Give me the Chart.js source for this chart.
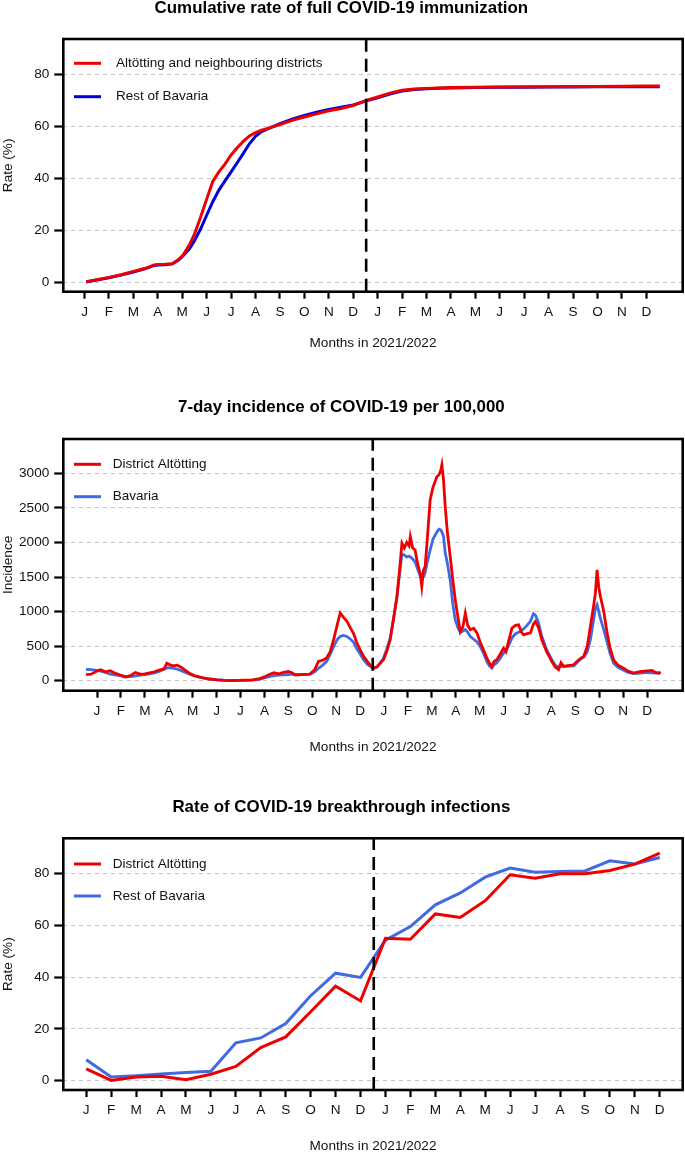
<!DOCTYPE html>
<html><head><meta charset="utf-8">
<script src="https://cdn.jsdelivr.net/npm/chart.js@4.4.1/dist/chart.umd.min.js"></script>
<style>
html,body{margin:0;padding:0;background:#fff;overflow:hidden;width:685px;height:1153px;position:relative;}
canvas{position:absolute;left:0;}
</style></head><body>
<canvas id="c1" width="685" height="351" style="top:0px"></canvas>
<canvas id="c2" width="685" height="356" style="top:399px"></canvas>
<canvas id="c3" width="685" height="355" style="top:799px"></canvas>
<script>
// ---------- shared ----------
const monthLabels = ['J','F','M','A','M','J','J','A','S','O','N','D','J','F','M','A','M','J','J','A','S','O','N','D'];
const monthTicks = [0,1,2,3,4,5,6,7,8,9,10,11,12,13,14,15,16,17,18,19,20,21,22,23];
const xTitle = 'Months in 2021/2022';
const cutMonth = 11.53;

// ---------- panel 1: cumulative immunization ----------
const immTitle = 'Cumulative rate of full COVID-19 immunization';
const immX = [0.07,0.5,1,1.5,2,2.5,2.85,3,3.3,3.6,3.85,4.05,4.3,4.5,4.75,5,5.25,5.5,5.75,6,6.25,6.5,6.75,7,7.25,7.5,8,8.5,9,9.5,10,10.5,11,11.5,12,12.5,13,13.5,14,14.5,15,16,17,18,19,20,21,22,23,23.55];
const immAltoetting = [0.2,1.0,1.9,2.9,4.2,5.4,6.7,6.9,7.0,7.2,8.8,10.7,14.5,18.5,25,32,38.8,42.5,45.5,49,51.8,54.2,56.3,57.6,58.5,59.2,60.7,62.3,63.6,64.8,66,66.9,68.0,69.9,71.3,72.8,73.9,74.4,74.6,74.8,74.9,75.0,75.1,75.2,75.2,75.3,75.3,75.4,75.5,75.5];
const immBavaria = [0.1,0.9,1.8,2.8,4.0,5.3,6.5,6.7,6.8,7.1,8.6,10.3,13.0,16.0,20.5,25.8,31.0,35.5,39.0,42.5,46.0,49.6,53.3,56.2,58.0,59.0,61.0,62.8,64.2,65.4,66.5,67.4,68.2,69.7,71.0,72.4,73.6,74.2,74.5,74.7,74.8,74.9,75.0,75.0,75.1,75.1,75.2,75.2,75.2,75.2];
const immYTicks = [0,20,40,60,80];

// ---------- panel 2: 7-day incidence ----------
const incTitle = '7-day incidence of COVID-19 per 100,000';
const incX = [-0.46,-0.25,0,0.15,0.35,0.55,0.75,1.0,1.2,1.4,1.6,1.8,2.0,2.2,2.4,2.6,2.8,2.92,3.05,3.2,3.35,3.5,3.7,3.9,4.1,4.4,4.7,5.0,5.3,5.6,5.9,6.2,6.5,6.8,7.0,7.2,7.4,7.6,7.8,8.0,8.15,8.3,8.6,8.9,9.1,9.26,9.45,9.6,9.75,9.9,10.05,10.17,10.3,10.45,10.6,10.72,10.85,11.0,11.15,11.3,11.45,11.56,11.7,11.85,11.98,12.12,12.26,12.4,12.54,12.65,12.75,12.85,12.95,13.05,13.1,13.2,13.3,13.4,13.51,13.58,13.65,13.72,13.8,13.93,14.05,14.21,14.3,14.38,14.42,14.49,14.56,14.65,14.77,14.88,14.98,15.1,15.19,15.3,15.4,15.5,15.61,15.75,15.89,16.02,16.16,16.3,16.4,16.51,16.6,16.72,16.85,17.0,17.1,17.2,17.35,17.5,17.63,17.75,17.84,17.98,18.12,18.25,18.33,18.45,18.6,18.8,19.02,19.15,19.3,19.4,19.51,19.7,19.93,20.1,20.25,20.35,20.5,20.63,20.75,20.84,20.91,20.98,21.05,21.19,21.33,21.45,21.6,21.8,22.02,22.2,22.44,22.7,23.0,23.2,23.35,23.49,23.56];
const incAltoetting = [87,95,140,160,130,145,110,80,55,75,120,95,100,115,130,155,170,255,230,215,225,200,150,100,70,45,25,12,5,3,4,8,12,30,55,90,115,100,120,135,115,82,90,97,160,280,300,330,420,600,820,980,920,860,760,690,560,450,350,280,215,183,200,260,303,430,592,900,1218,1600,1989,1920,2000,1950,2085,1920,1892,1700,1555,1362,1600,1651,2000,2615,2800,2951,2980,3050,3120,2900,2518,2150,1796,1450,1170,900,712,780,978,800,737,760,689,560,448,330,260,207,280,303,380,472,420,560,761,800,809,700,664,680,689,820,857,780,592,420,279,200,159,260,207,220,231,290,330,351,500,784,1050,1267,1603,1350,1218,1000,689,480,303,220,183,140,111,130,144,150,120,111,130];
const incBavaria = [165,160,150,140,120,95,85,70,55,60,70,80,90,100,115,135,165,185,190,180,170,150,120,90,65,40,25,15,8,5,4,5,8,20,40,60,75,80,85,90,95,90,88,95,130,180,230,280,380,500,600,640,655,640,600,560,470,390,300,240,200,180,195,250,330,460,620,900,1200,1550,1830,1820,1790,1800,1790,1760,1720,1620,1520,1500,1507,1560,1700,1892,2050,2150,2191,2180,2150,2085,1850,1700,1450,1100,880,760,700,720,740,700,640,600,560,496,400,280,220,183,230,260,320,400,430,500,620,680,700,720,750,800,860,970,950,850,640,450,300,230,200,210,207,210,215,270,320,340,420,592,850,1050,1098,1000,900,737,560,400,255,190,150,120,105,110,120,115,110,110,108];
const incYTicks = [0,500,1000,1500,2000,2500,3000];

// ---------- panel 3: breakthrough infections ----------
const btTitle = 'Rate of COVID-19 breakthrough infections';
const btX = monthTicks;
const btAltoetting = [4.6,0.1,1.4,1.7,0.4,2.5,5.5,12.8,16.9,26.6,36.5,30.8,55.0,54.6,64.4,63.0,69.5,79.5,78.2,79.9,79.9,81.2,83.6,87.9];
const btBavaria = [8.1,1.4,1.9,2.6,3.2,3.6,14.6,16.5,22.1,32.8,41.5,39.9,54.3,59.5,67.9,72.5,78.6,82.1,80.5,80.8,81.0,84.9,83.7,86.2];
const btYTicks = [0,20,40,60,80];

// ---------- drawing ----------
const FONT = '"Liberation Sans", Arial, Helvetica, sans-serif';
const TXT = '#111';

const boxPlugin = {
  id: 'rbox',
  afterDraw(chart) {
    const {ctx, chartArea: a} = chart;
    ctx.save();
    ctx.strokeStyle = '#000';
    ctx.lineWidth = 2.6;
    ctx.strokeRect(a.left, a.top, a.right - a.left, a.bottom - a.top);
    ctx.restore();
  }
};
const legendPlugin = {
  id: 'rlegend',
  afterDraw(chart, args, o) {
    const {ctx, chartArea: a} = chart;
    ctx.save();
    o.rows.forEach((dy, i) => {
      const ds = chart.data.datasets[i];
      const y = a.top + dy;
      ctx.strokeStyle = ds.borderColor;
      ctx.lineWidth = 3;
      ctx.lineCap = 'butt';
      ctx.beginPath();
      ctx.moveTo(a.left + 10.7, y);
      ctx.lineTo(a.left + 37.7, y);
      ctx.stroke();
      ctx.fillStyle = TXT;
      ctx.font = '13.5px ' + FONT;
      ctx.textBaseline = 'middle';
      ctx.textAlign = 'left';
      ctx.fillText(ds.label, a.left + o.tx, y);
    });
    ctx.restore();
  }
};

function buildChart(id, p) {
  const datasets = p.series.map((s, i) => ({
    label: s.label,
    data: p.x.map((x, j) => ({x: x, y: s.values[j]})),
    borderColor: s.color,
    borderWidth: s.width,
    pointRadius: 0,
    tension: 0,
    fill: false,
    order: i
  }));
  datasets.push({
    label: 'cut',
    data: [{x: cutMonth, y: p.yMin}, {x: cutMonth, y: p.yMax}],
    borderColor: '#000',
    borderWidth: 2.6,
    borderDash: [13, 7],
    pointRadius: 0,
    order: -1
  });
  return new Chart(document.getElementById(id), {
    type: 'line',
    data: {datasets},
    plugins: [boxPlugin, legendPlugin],
    options: {
      responsive: false,
      animation: false,
      devicePixelRatio: 1,
      layout: {padding: {left: 0, right: 2.3, top: 0, bottom: 0}},
      plugins: {
        legend: {display: false},
        tooltip: {enabled: false},
        title: {
          display: true, text: p.title, color: '#000',
          font: {family: FONT, size: 16.9, weight: 'bold', lineHeight: 1},
          padding: {top: 0, bottom: p.titlePad}
        },
        rlegend: {rows: p.legendRows, tx: p.legendTx}
      },
      scales: {
        x: {
          type: 'linear', bounds: 'data', min: p.xMin, max: p.xMax,
          afterBuildTicks: s => { s.ticks = monthTicks.map(v => ({value: v})); },
          afterFit: s => { s.height = p.xH; },
          ticks: {
            callback: (v, i) => monthLabels[i], autoSkip: false, maxRotation: 0, minRotation: 0,
            padding: 5.5, color: TXT, font: {family: FONT, size: 13.6}
          },
          grid: {display: true, drawOnChartArea: false, drawTicks: true, tickLength: 7, tickWidth: 2.2, tickColor: '#000'},
          border: {display: false},
          title: {display: true, text: xTitle, color: TXT, font: {family: FONT, size: 13.6}, padding: {top: 0, bottom: 0}}
        },
        y: {
          type: 'linear', bounds: 'data', min: p.yMin, max: p.yMax,
          afterBuildTicks: s => { s.ticks = p.yTicks.map(v => ({value: v})); },
          afterFit: s => { s.width = 63.3; },
          ticks: {
            callback: v => String(v), autoSkip: false, padding: 5,
            color: TXT, font: {family: FONT, size: 13.6}
          },
          grid: {display: true, drawOnChartArea: true, color: '#c4c4c4', lineWidth: 1, drawTicks: true,
                 tickLength: 9, tickWidth: 2.2, tickColor: '#000', tickBorderDash: []},
          border: {display: false, dash: [4, 4]},
          title: {display: true, text: p.yTitle, color: TXT, font: {family: FONT, size: 13.6}, padding: {top: 0, bottom: 0}}
        }
      }
    }
  });
}

buildChart('c1', {
  title: immTitle, yTitle: 'Rate (%)', titlePad: 22.1, xH: 59.3,
  xMin: -0.87, xMax: 24.49, yMin: -3.6, yMax: 93.6, yTicks: immYTicks,
  x: immX, legendRows: [24.3, 57.7], legendTx: 52.7,
  series: [
    {label: 'Altötting and neighbouring districts', values: immAltoetting, color: '#EE0000', width: 3},
    {label: 'Rest of Bavaria', values: immBavaria, color: '#0000DD', width: 3}
  ]
});
buildChart('c2', {
  title: incTitle, yTitle: 'Incidence', titlePad: 23.1, xH: 64.3,
  xMin: -1.41, xMax: 24.49, yMin: -144, yMax: 3496, yTicks: incYTicks,
  x: incX, legendRows: [25.3, 57.7], legendTx: 49.4,
  series: [
    {label: 'District Altötting', values: incAltoetting, color: '#EE0000', width: 2.8},
    {label: 'Bavaria', values: incBavaria, color: '#4169E1', width: 2.8}
  ]
});
buildChart('c3', {
  title: btTitle, yTitle: 'Rate (%)', titlePad: 22.4, xH: 64,
  xMin: -0.92, xMax: 23.92, yMin: -3.6, yMax: 93.6, yTicks: btYTicks,
  x: btX, legendRows: [25.7, 57.7], legendTx: 49.4,
  series: [
    {label: 'District Altötting', values: btAltoetting, color: '#EE0000', width: 3},
    {label: 'Rest of Bavaria', values: btBavaria, color: '#4169E1', width: 3}
  ]
});
</script>
</body></html>
